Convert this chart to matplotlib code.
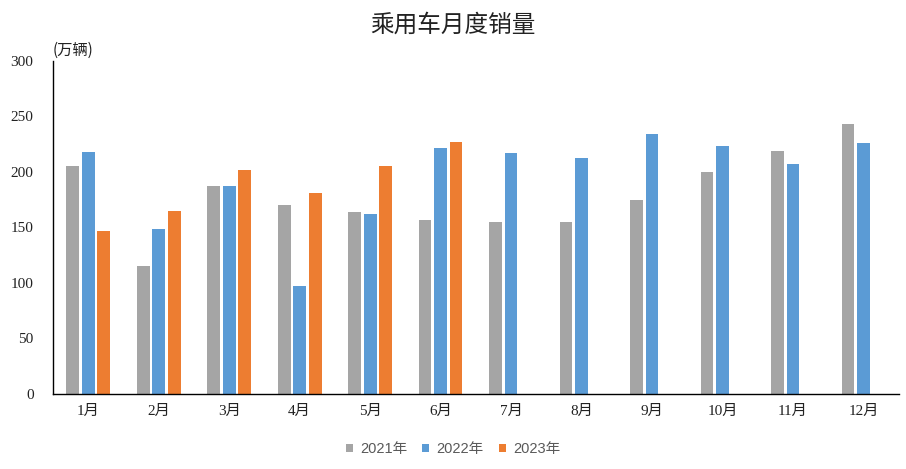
import matplotlib
matplotlib.use("Agg")
import matplotlib.pyplot as plt
import numpy as np

months = ["1月", "2月", "3月", "4月", "5月", "6月", "7月", "8月", "9月", "10月", "11月", "12月"]
sales_2021 = [205, 115, 187, 170, 164, 157, 155, 155, 175, 200, 219, 243]
sales_2022 = [218, 149, 187, 97, 162, 222, 217, 213, 234, 223, 207, 226]
sales_2023 = [147, 165, 202, 181, 205, 227]
series_names = ["2021年", "2022年", "2023年"]
colors = ["#A5A5A5", "#5B9BD5", "#ED7D31"]

serif_cjk = ["Liberation Serif", "Noto Sans CJK SC"]
sans_cjk = ["Liberation Sans", "Noto Sans CJK SC"]

fig = plt.figure(figsize=(9.06, 4.69), dpi=100)
ax = fig.add_axes([0.0585, 0.160, 0.9335, 0.710])

x = np.arange(len(months))
step = 0.22
width = 0.18
data = [sales_2021, sales_2022, sales_2023]
for i, (vals, name, c) in enumerate(zip(data, series_names, colors)):
    xs = x[:len(vals)] + (i - 1) * step
    ax.bar(xs, vals, width=width, color=c, label=name, zorder=2)

ax.set_xlim(-0.5, 11.5)
ax.set_ylim(0, 300)
ax.set_yticks(np.arange(0, 301, 50))
ax.set_xticks(x)
ax.set_xticklabels(months, family=serif_cjk, fontsize=11, color="#222222")
for lab in ax.get_yticklabels():
    lab.set_family(serif_cjk)
    lab.set_fontsize(11)
    lab.set_color("#222222")
ax.tick_params(axis="both", length=0)
ax.tick_params(axis="y", pad=14)
ax.tick_params(axis="x", pad=8)
for s in ["top", "right"]:
    ax.spines[s].set_visible(False)
ax.spines["left"].set_color("black")
ax.spines["bottom"].set_color("black")
ax.spines["left"].set_linewidth(1.0)
ax.spines["bottom"].set_linewidth(1.0)

ax.text(0.0, 1.005, "(万辆)", transform=ax.transAxes, ha="left", va="bottom",
        family=["Noto Sans CJK SC"], fontsize=11, color="#222222")

fig.text(0.5, 0.947, "乘用车月度销量", ha="center", va="center",
         family=["Noto Sans CJK SC"], fontweight="light", fontsize=17, color="#222222")

leg = fig.legend(loc="center", bbox_to_anchor=(0.5, 0.042), ncol=3, frameon=False,
                 prop={"family": sans_cjk, "size": 10.5}, handlelength=0.5,
                 handleheight=0.5, handletextpad=0.5, columnspacing=1.0)
for t in leg.get_texts():
    t.set_color("#595959")

fig.savefig("out.png", dpi=100)
